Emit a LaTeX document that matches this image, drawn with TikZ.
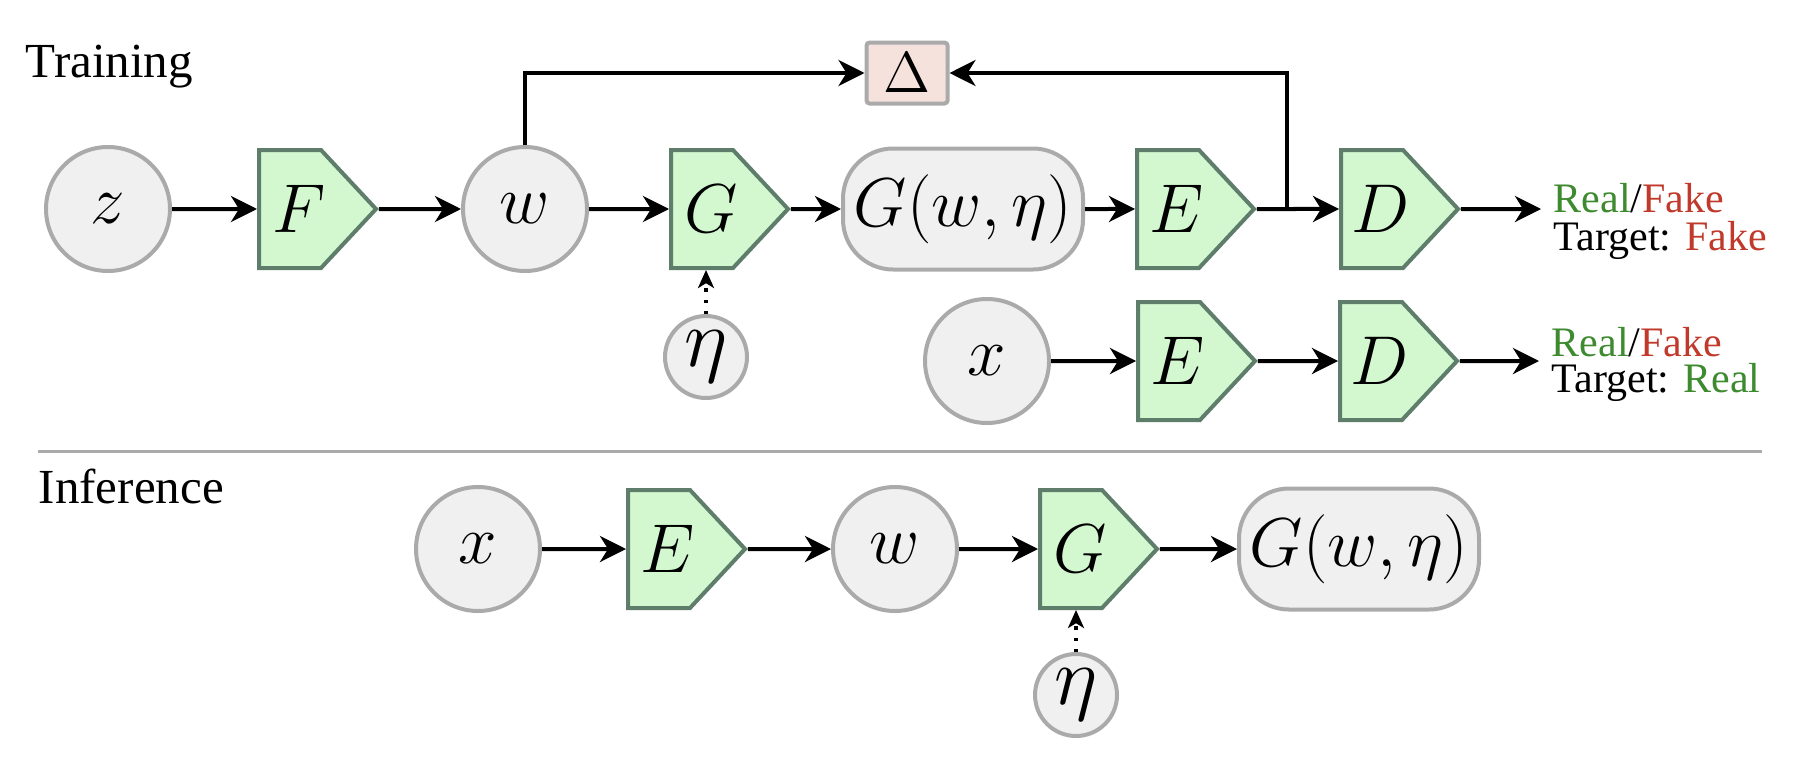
\documentclass[tikz,border=0pt]{standalone}
\usepackage[no-math]{fontspec}
\setmainfont{Liberation Serif}
\usetikzlibrary{arrows.meta,shapes.symbols,calc}
\definecolor{VarClr}{rgb}{0.941,0.941,0.941}
\definecolor{VarLineClr}{rgb}{0.667,0.667,0.667}
\definecolor{NetClr}{rgb}{0.827,0.973,0.816}
\definecolor{NetLineClr}{rgb}{0.373,0.490,0.420}
\definecolor{LossClr}{rgb}{0.965,0.886,0.863}
\definecolor{RealClr}{rgb}{0.239,0.541,0.184}
\definecolor{FakeClr}{rgb}{0.753,0.224,0.169}

\begin{document}
\begin{tikzpicture}[x=0.25pt,y=-0.25pt,
  var/.style={circle,draw=VarLineClr,fill=VarClr,line width=1pt,minimum size=31pt,inner sep=0pt,font=\fontsize{17}{20}\selectfont},
  noise/.style={var,minimum size=20.5pt,font=\fontsize{20}{23}\selectfont},
  gen/.style={rectangle,rounded corners=12.5pt,draw=VarLineClr,fill=VarClr,line width=1pt,minimum width=60pt,minimum height=30.25pt,inner sep=0pt,font=\fontsize{17}{20}\selectfont},
  net/.style={signal,signal to=east,signal from=nowhere,signal pointer angle=94,draw=NetLineClr,fill=NetClr,line width=1pt,minimum width=29.25pt,minimum height=29.5pt,inner sep=0pt,font=\fontsize{17}{20}\selectfont,
    execute at begin node={\hspace*{2.2pt}},execute at end node={\hspace*{-2.2pt}}},
  loss/.style={rectangle,rounded corners=0.75pt,draw=VarLineClr,fill=LossClr,line width=1pt,minimum width=20.25pt,minimum height=15.25pt,inner sep=0pt,font=\fontsize{14.4}{17}\selectfont},
  lbl/.style={inner sep=0pt,anchor=base west,font=\fontsize{10.5}{12}\selectfont},
  title/.style={inner sep=0pt,anchor=base west,font=\fontsize{12.25}{14.5}\selectfont},
  arr/.style={-{Stealth[length=6.5pt,width=6.5pt,inset=2pt]},line width=1pt},
  dotarr/.style={-{Stealth[length=4.5pt,width=4pt,inset=1.2pt]},line width=0.8pt,dotted}]
\useasboundingbox (0,0) rectangle (1806,782);

% training
\node[title] (train) at (25,77) {Training};
\node[var] (z) at (108,209) {$z$};
\node[net] (F) at (290,209) {$F$};
\node[var] (w) at (525,209) {$w$};
\node[net] (G) at (702,209) {$G$};
\node[gen] (Gw) at (963,209) {$G(w,\eta)$};
\node[net] (E) at (1168,209) {$E$};
\node[net] (D) at (1372,209) {$D$};
\node[loss] (delta) at (907,73) {$\Delta$};
\node[noise] (eta) at (706,357) {$\eta$};
\coordinate (br) at (1287,209);
\node[lbl] (rf) at (1553,212) {{\color{RealClr}Real}/{\color{FakeClr}Fake}};
\node[lbl] (tf) at (1553,250) {Target: {\color{FakeClr}Fake}};

\node[var] (xr) at (987,361) {$x$};
\node[net] (Er) at (1169,361) {$E$};
\node[net] (Dr) at (1371,361) {$D$};
\node[lbl] (rr) at (1551,356) {{\color{RealClr}Real}/{\color{FakeClr}Fake}};
\node[lbl] (tr) at (1551,392) {Target: {\color{RealClr}Real}};

\draw[arr] (z) -- (F);
\draw[arr] (F) -- (w);
\draw[arr] (w) -- (G);
\draw[arr] (G) -- (Gw);
\draw[arr] (Gw) -- (E);
\draw[arr] (E) -- (D);
\draw[arr,shorten >=3pt] (D) -- (D -| rf.west);
\draw[arr] (w.north) |- (delta);
\draw[arr] (br) |- (delta);
\draw[dotarr] (eta) -- (eta |- G.south);

\draw[arr] (xr) -- (Er);
\draw[arr] (Er) -- (Dr);
\draw[arr,shorten >=3pt] (Dr) -- (Dr -| rr.west);

\draw[VarLineClr,line width=0.75pt] (38,451) -- (1762,451);

% inference
\node[title] (infer) at (38,503) {Inference};
\node[var] (xi) at (478,549) {$x$};
\node[net] (Ei) at (659,549) {$E$};
\node[var] (wi) at (895,549) {$w$};
\node[net] (Gi) at (1071,549) {$G$};
\node[gen] (Gwi) at (1359,549) {$G(w,\eta)$};
\node[noise] (etai) at (1076,695) {$\eta$};

\draw[arr] (xi) -- (Ei);
\draw[arr] (Ei) -- (wi);
\draw[arr] (wi) -- (Gi);
\draw[arr] (Gi) -- (Gwi);
\draw[dotarr] (etai) -- (etai |- Gi.south);

\end{tikzpicture}
\end{document}
